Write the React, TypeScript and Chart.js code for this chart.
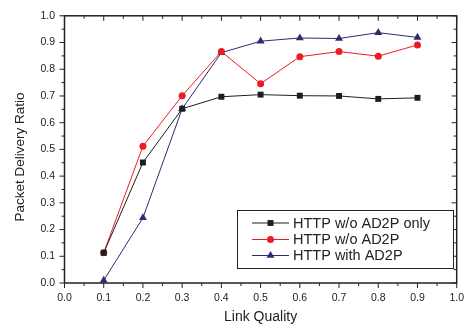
import React, { useEffect, useRef } from 'react';
import { Chart, registerables } from 'chart.js';

Chart.register(...registerables);

const linkQuality = [0.1, 0.2, 0.3, 0.4, 0.5, 0.6, 0.7, 0.8, 0.9];
const httpWoOnly = [0.113, 0.451, 0.652, 0.697, 0.705, 0.701, 0.7, 0.689, 0.693];
const httpWo = [0.113, 0.512, 0.701, 0.866, 0.746, 0.847, 0.866, 0.849, 0.891];
const httpWith = [0.01, 0.244, 0.652, 0.862, 0.905, 0.917, 0.915, 0.937, 0.919];
const seriesLabels = ['HTTP w/o AD2P only', 'HTTP w/o AD2P', 'HTTP with AD2P'];
const xTitle = 'Link Quality';
const yTitle = 'Packet Delivery Ratio';

const FONT = '"Liberation Sans", Arial, sans-serif';
const INK = '#222222';
const colors = ['#1e1e1e', '#ed1c24', '#2a2d6e'];
const styles = ['rect', 'circle', 'triangle'];
const radii = [4.2, 3.5, 4.6];

function drawMarker(ctx: CanvasRenderingContext2D, style: string, x: number, y: number, r: number) {
  ctx.beginPath();
  if (style === 'rect') {
    const s = Math.SQRT1_2 * r;
    ctx.rect(x - s, y - s, 2 * s, 2 * s);
  } else if (style === 'circle') {
    ctx.arc(x, y, r, 0, Math.PI * 2);
  } else {
    ctx.moveTo(x, y - r);
    ctx.lineTo(x + r * Math.sin(Math.PI / 3), y + r / 2);
    ctx.lineTo(x - r * Math.sin(Math.PI / 3), y + r / 2);
    ctx.closePath();
  }
  ctx.fill();
}

const framePlugin = {
  id: 'frame',
  beforeDatasetsDraw(chart: any) {
    const { ctx, chartArea, scales } = chart;
    const { left, right, top, bottom } = chartArea;
    const x = scales.x;
    const y = scales.y;
    ctx.save();
    ctx.strokeStyle = INK;
    ctx.lineWidth = 1.5;
    ctx.strokeRect(left, top, right - left, bottom - top);
    ctx.lineWidth = 1;
    const seg = (x1: number, y1: number, x2: number, y2: number) => {
      ctx.beginPath();
      ctx.moveTo(x1, y1);
      ctx.lineTo(x2, y2);
      ctx.stroke();
    };
    for (let i = 0; i <= 20; i++) {
      const v = i * 0.05;
      const major = i % 2 === 0;
      const len = major ? 5 : 3;
      const px = x.getPixelForValue(v);
      const py = y.getPixelForValue(v);
      seg(px, bottom, px, bottom + len);
      seg(px, top, px, top + len);
      seg(left - len, py, left, py);
      seg(right - len, py, right, py);
    }
    // y axis title
    ctx.fillStyle = INK;
    ctx.font = `13.5px ${FONT}`;
    ctx.textAlign = 'center';
    ctx.textBaseline = 'middle';
    ctx.translate(20, 157);
    ctx.rotate(-Math.PI / 2);
    ctx.fillText(yTitle, 0, 0);
    ctx.restore();
  },
};

const legendPlugin = {
  id: 'boxLegend',
  afterDatasetsDraw(chart: any) {
    const { ctx } = chart;
    const bx = 237, by = 210, bw = 216, bh = 58;
    ctx.save();
    ctx.fillStyle = '#ffffff';
    ctx.fillRect(bx, by, bw, bh);
    ctx.strokeStyle = INK;
    ctx.lineWidth = 1;
    ctx.strokeRect(bx + 0.5, by + 0.5, bw, bh);
    const rows = [223, 239.5, 255.5];
    chart.data.datasets.forEach((ds: any, i: number) => {
      const yy = rows[i];
      ctx.strokeStyle = ds.borderColor;
      ctx.lineWidth = 1;
      ctx.beginPath();
      ctx.moveTo(252, yy);
      ctx.lineTo(289, yy);
      ctx.stroke();
      ctx.fillStyle = ds.pointBackgroundColor;
      drawMarker(ctx, styles[i], 270.5, yy, radii[i]);
      ctx.fillStyle = INK;
      ctx.font = `14.5px ${FONT}`;
      ctx.textAlign = 'left';
      ctx.textBaseline = 'middle';
      ctx.fillText(ds.label, 293, yy + 0.5);
    });
    ctx.restore();
  },
};

export default function App() {
  const ref = useRef<HTMLCanvasElement>(null);
  useEffect(() => {
    if (!ref.current) return;
    const series = [httpWoOnly, httpWo, httpWith];
    const chart = new Chart(ref.current, {
      type: 'line',
      data: {
        datasets: series.map((vals, i) => ({
          label: seriesLabels[i],
          data: linkQuality.map((q, j) => ({ x: q, y: vals[j] })),
          borderColor: colors[i],
          backgroundColor: colors[i],
          pointBackgroundColor: colors[i],
          pointBorderColor: colors[i],
          pointBorderWidth: 0,
          pointStyle: styles[i] as any,
          pointRadius: radii[i],
          borderWidth: 1,
          tension: 0,
          clip: false as any,
        })),
      },
      options: {
        animation: false,
        responsive: false,
        devicePixelRatio: 1,
        layout: { padding: { top: 10, right: 11, left: 0, bottom: 0 } },
        plugins: { legend: { display: false }, tooltip: { enabled: false } },
        scales: {
          x: {
            type: 'linear',
            min: 0,
            max: 1,
            grid: { display: false, drawTicks: false },
            border: { display: false },
            ticks: {
              stepSize: 0.1,
              padding: 9,
              color: INK,
              font: { family: FONT, size: 10.5 },
              callback: (v: any) => Number(v).toFixed(1),
            },
            title: {
              display: true,
              text: xTitle,
              color: INK,
              font: { family: FONT, size: 14 },
              padding: { top: 0, bottom: 2 },
            },
            afterFit: (s: any) => { s.height = 45; },
          },
          y: {
            type: 'linear',
            min: 0,
            max: 1,
            grid: { display: false, drawTicks: false },
            border: { display: false },
            ticks: {
              stepSize: 0.1,
              padding: 9.5,
              color: INK,
              font: { family: FONT, size: 10.5 },
              callback: (v: any) => Number(v).toFixed(1),
            },
            afterFit: (s: any) => { s.width = 64.5; },
          },
        },
      },
      plugins: [framePlugin, legendPlugin],
    });
    return () => chart.destroy();
  }, []);
  return (
    <div style={{ position: 'absolute', left: 0, top: 0, width: 473, height: 328, background: '#fff' }}>
      <canvas ref={ref} width={473} height={328} style={{ display: 'block' }} />
    </div>
  );
}
